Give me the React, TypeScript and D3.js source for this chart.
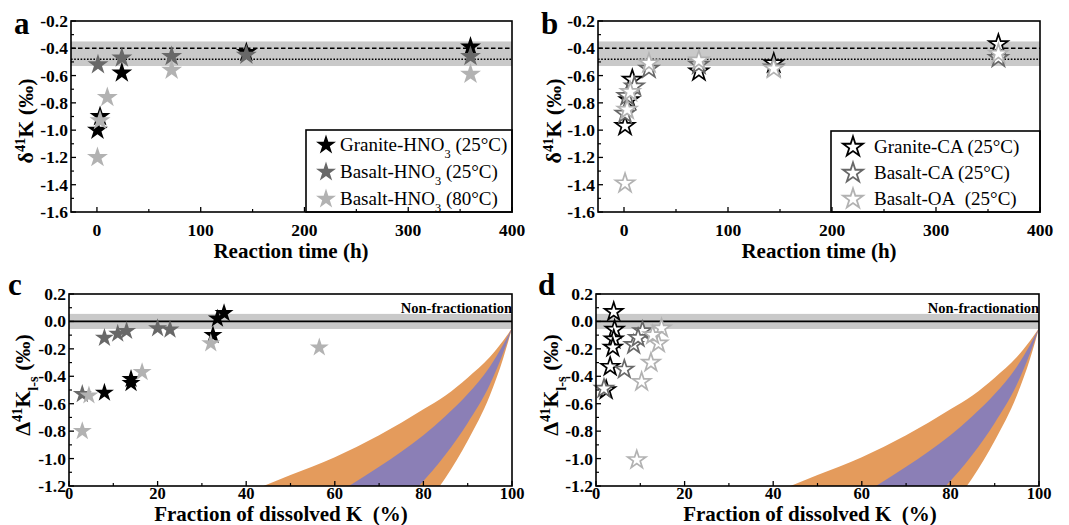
import React from "react";
import * as d3 from "d3";

// ---------- Panel a: HNO3 leaching, δ41K vs reaction time ----------
const aGraniteHNO3_25_t = [0.5, 3, 24, 144, 360];
const aGraniteHNO3_25_v = [-1.0, -0.9, -0.58, -0.43, -0.39];
const aBasaltHNO3_25_t = [1, 24, 72, 144, 360];
const aBasaltHNO3_25_v = [-0.52, -0.47, -0.46, -0.45, -0.46];
const aBasaltHNO3_80_t = [0.5, 3, 10, 72, 360];
const aBasaltHNO3_80_v = [-1.2, -0.93, -0.76, -0.56, -0.59];

// ---------- Panel b: organic acids ----------
const bGraniteCA_t = [1, 5, 8, 72, 144, 360];
const bGraniteCA_v = [-0.97, -0.78, -0.63, -0.57, -0.51, -0.37];
const bBasaltCA_t = [1, 3, 10, 24, 72, 144, 360];
const bBasaltCA_v = [-0.88, -0.75, -0.68, -0.55, -0.52, -0.54, -0.47];
const bBasaltOA_t = [1, 3, 6, 24, 72, 144, 360];
const bBasaltOA_v = [-1.39, -0.85, -0.72, -0.51, -0.49, -0.55, -0.44];

// ---------- Panel c: Δ41K l-s vs fraction dissolved (HNO3) ----------
const cGranite_f = [8, 14, 14, 32.5, 33.5, 35];
const cGranite_v = [-0.52, -0.45, -0.42, -0.1, 0.02, 0.06];
const cBasalt25_f = [3, 8, 11, 13, 20, 22.8];
const cBasalt25_v = [-0.53, -0.12, -0.09, -0.07, -0.05, -0.06];
const cBasalt80_f = [3, 4.5, 16.5, 32, 56.5];
const cBasalt80_v = [-0.8, -0.54, -0.37, -0.16, -0.19];

// ---------- Panel d: organic acids ----------
const dGraniteCA_f = [4, 4.2, 4, 3.8, 3.2, 2.3];
const dGraniteCA_v = [0.07, -0.06, -0.13, -0.19, -0.33, -0.5];
const dBasaltCA_f = [1.8, 6.4, 8.5, 10.5, 9.5];
const dBasaltCA_v = [-0.49, -0.35, -0.17, -0.07, -0.12];
const dBasaltOA_f = [9.2, 10.3, 12.4, 14.1, 14.8, 12.8];
const dBasaltOA_v = [-1.01, -0.44, -0.3, -0.16, -0.05, -0.1];

// ---------- Model envelope edges ----------
const edge1_f = [43.9, 50, 60, 70, 80, 85, 90, 95, 98, 100];
const edge1_v = [-1.2, -1.12, -0.99, -0.83, -0.64, -0.54, -0.41, -0.26, -0.14, -0.05];
const edge2_f = [63.2, 70, 80, 85, 90, 95, 98, 100];
const edge2_v = [-1.2, -1.06, -0.83, -0.69, -0.53, -0.33, -0.17, -0.05];
const edge3_f = [79, 85, 90, 95, 98, 100];
const edge3_v = [-1.2, -0.97, -0.74, -0.46, -0.23, -0.05];
const edge4_f = [83.7, 85, 90, 95, 98, 100];
const edge4_v = [-1.2, -1.14, -0.87, -0.54, -0.27, -0.05];

// ---------- Reference lines ----------
const bulkBand = [-0.35, -0.53];
const graniteBulk = -0.4;
const basaltBulk = -0.48;
const nonFracBand = [0.055, -0.055];

// ---------- Ticks ----------
const timeTicks = [0, 100, 200, 300, 400];
const timeMinor = [50, 150, 250, 350];
const deltaTicks = [-1.6, -1.4, -1.2, -1.0, -0.8, -0.6, -0.4, -0.2];
const deltaMinor = [-1.5, -1.3, -1.1, -0.9, -0.7, -0.5, -0.3];
const fracTicks = [0, 20, 40, 60, 80, 100];
const fracMinor = [10, 30, 50, 70, 90];
const capTicks = [-1.2, -1.0, -0.8, -0.6, -0.4, -0.2, 0.0, 0.2];
const capMinor = [-1.1, -0.9, -0.7, -0.5, -0.3, -0.1, 0.1];

const BLACK = "#000000";
const DARK = "#686868";
const LIGHT = "#b2b2b2";
const BAND = "#c9c9c9";
const ORANGE = "#e49b5c";
const PURPLE = "#8b7fb6";
const FONT = "'Liberation Serif', 'Times New Roman', serif";

const starPath = (r: number) => d3.symbol().type(d3.symbolStar).size((r * r) / 0.8908130915292852)() as string;

type Series = { xs: number[]; ys: number[]; color: string; hollow?: boolean };

function Frame({
  x, y, xTicks, xMinor, yTicks, yMinor, xLabelDy, xLabelSize,
}: {
  x: d3.ScaleLinear<number, number>; y: d3.ScaleLinear<number, number>;
  xTicks: number[]; xMinor: number[]; yTicks: number[]; yMinor: number[]; xLabelDy: number; xLabelSize: number;
}) {
  const [x0, x1] = x.range();
  const [y0, y1] = y.range();
  return (
    <g>
      {xTicks.map((t) => (
        <g key={"xt" + t}>
          <line x1={x(t)} x2={x(t)} y1={y0} y2={y0 - 5} stroke="#000" strokeWidth={1.3} />
          <text x={x(t)} y={y0 + xLabelDy} textAnchor="middle" fontFamily={FONT} fontWeight="bold" fontSize={xLabelSize}>
            {String(t)}
          </text>
        </g>
      ))}
      {xMinor.map((t) => (
        <line key={"xm" + t} x1={x(t)} x2={x(t)} y1={y0} y2={y0 - 3} stroke="#000" strokeWidth={1.2} />
      ))}
      {yTicks.map((t) => (
        <g key={"yt" + t}>
          <line x1={x0} x2={x0 + 5} y1={y(t)} y2={y(t)} stroke="#000" strokeWidth={1.3} />
          <text x={x0 - 3} y={y(t) + 6} textAnchor="end" fontFamily={FONT} fontWeight="bold" fontSize={17.5}>
            {Math.abs(t) < 1e-9 ? "0.0" : t.toFixed(1)}
          </text>
        </g>
      ))}
      {yMinor.map((t) => (
        <line key={"ym" + t} x1={x0} x2={x0 + 3} y1={y(t)} y2={y(t)} stroke="#000" strokeWidth={1.2} />
      ))}
      <rect x={x0} y={y1} width={x1 - x0} height={y0 - y1} fill="none" stroke="#000" strokeWidth={1.6} />
    </g>
  );
}

function Stars({ series, x, y, r }: { series: Series[]; x: any; y: any; r: number }) {
  const p = starPath(r);
  return (
    <g>
      {series.map((s, si) =>
        s.xs.map((xv, i) => (
          <path
            key={si + "-" + i}
            d={p}
            transform={`translate(${x(xv)},${y(s.ys[i])})`}
            fill={s.hollow ? "#ffffff" : s.color}
            stroke={s.color}
            strokeWidth={s.hollow ? 1.7 : 0}
          />
        ))
      )}
    </g>
  );
}

function Legend({ x, y, w, h, items, starX, textX, rowY, hollow }: any) {
  const p = starPath(10.5);
  return (
    <g>
      <rect x={x} y={y} width={w} height={h} fill="#fff" stroke="#000" strokeWidth={1.6} />
      {items.map((it: any, i: number) => (
        <g key={i}>
          <path d={p} transform={`translate(${starX},${rowY[i]})`} fill={hollow ? "#fff" : it.color} stroke={it.color} strokeWidth={hollow ? 1.8 : 0} />
          <text x={textX} y={rowY[i] + 6} fontFamily={FONT} fontSize={19} xmlSpace="preserve" style={{ whiteSpace: "pre" }}>
            {it.label}
          </text>
        </g>
      ))}
    </g>
  );
}

function Envelope({ x, y }: { x: any; y: any }) {
  const pts = (fs: number[], vs: number[]) => fs.map((f, i) => [x(f), y(vs[i])] as [number, number]);
  const line = d3.line().curve(d3.curveMonotoneX);
  const band = (aF: number[], aV: number[], bF: number[], bV: number[]) => {
    const a = line(pts(aF, aV)) as string;
    const b = pts(bF, bV).reverse();
    const bl = d3.line().curve(d3.curveMonotoneX)(b) as string;
    return a + "L" + bl.slice(1) + "Z";
  };
  return (
    <g>
      <path d={band(edge1_f, edge1_v, edge4_f, edge4_v)} fill={ORANGE} />
      <path d={band(edge2_f, edge2_v, edge3_f, edge3_v)} fill={PURPLE} />
    </g>
  );
}

const sup = (s: string) => <tspan baselineShift="super" fontSize="65%">{s}</tspan>;
const sub = (s: string) => <tspan baselineShift="sub" fontSize="65%">{s}</tspan>;

export default function App() {
  const xa = d3.scaleLinear().domain([-25, 400]).range([71, 512]);
  const ya = d3.scaleLinear().domain([-1.6, -0.2]).range([212, 21]);
  const xb = d3.scaleLinear().domain([-25, 400]).range([598, 1040]);
  const yb = ya;
  const xc = d3.scaleLinear().domain([0, 100]).range([69, 512]);
  const yc = d3.scaleLinear().domain([-1.2, 0.2]).range([486, 294]);
  const xd = d3.scaleLinear().domain([0, 100]).range([596, 1039]);
  const yd = yc;

  const refLines = (x: any, y: any) => {
    const [x0, x1] = x.range();
    return (
      <g>
        <rect x={x0} y={y(bulkBand[0])} width={x1 - x0} height={y(bulkBand[1]) - y(bulkBand[0])} fill={BAND} />
        <line x1={x0} x2={x1} y1={y(graniteBulk)} y2={y(graniteBulk)} stroke="#000" strokeWidth={1.4} strokeDasharray="4.5,2.5" />
        <line x1={x0} x2={x1} y1={y(basaltBulk)} y2={y(basaltBulk)} stroke="#000" strokeWidth={1.4} strokeDasharray="1.6,1.6" />
      </g>
    );
  };
  const nonFrac = (x: any, y: any) => {
    const [x0, x1] = x.range();
    return (
      <g>
        <rect x={x0} y={y(nonFracBand[0])} width={x1 - x0} height={y(nonFracBand[1]) - y(nonFracBand[0])} fill={BAND} />
        <line x1={x0} x2={x1} y1={y(0)} y2={y(0)} stroke="#000" strokeWidth={1.8} />
        <text x={x1} y={y(0.2) + 19} textAnchor="end" fontFamily={FONT} fontWeight="bold" fontSize={14.5}>
          Non-fractionation
        </text>
      </g>
    );
  };

  const hno3Label = (t: string) => (
    <>
      {"Basalt-HNO"}
      {sub("3")}
      {` (${t})`}
    </>
  );

  return (
    <svg width={1069} height={525} style={{ position: "absolute", left: 0, top: 0, background: "#fff" }}>
      <rect width={1069} height={525} fill="#fff" />

      {/* Panel a */}
      {refLines(xa, ya)}
      <Stars
        x={xa}
        y={ya}
        r={11}
        series={[
          { xs: aGraniteHNO3_25_t, ys: aGraniteHNO3_25_v, color: BLACK },
          { xs: aBasaltHNO3_25_t, ys: aBasaltHNO3_25_v, color: DARK },
          { xs: aBasaltHNO3_80_t, ys: aBasaltHNO3_80_v, color: LIGHT },
        ]}
      />
      <Legend
        x={306}
        y={130}
        w={206}
        h={82}
        starX={326}
        textX={340}
        rowY={[145, 172, 199]}
        items={[
          { color: BLACK, label: <>{"Granite-HNO"}{sub("3")}{" (25°C)"}</> },
          { color: DARK, label: hno3Label("25°C") },
          { color: LIGHT, label: hno3Label("80°C") },
        ]}
      />
      <Frame x={xa} y={ya} xTicks={timeTicks} xMinor={timeMinor} yTicks={deltaTicks} yMinor={deltaMinor} xLabelDy={24} xLabelSize={17.5} />
      <text x={14} y={34} fontFamily={FONT} fontWeight="bold" fontSize={31}>a</text>
      <text x={291} y={258} textAnchor="middle" fontFamily={FONT} fontWeight="bold" fontSize={21}>Reaction time (h)</text>
      <text transform="translate(33,121) rotate(-90)" textAnchor="middle" fontFamily={FONT} fontWeight="bold" fontSize={22}>
        {"δ"}{sup("41")}{"K (‰)"}
      </text>

      {/* Panel b */}
      {refLines(xb, yb)}
      <Stars
        x={xb}
        y={yb}
        r={10}
        series={[
          { xs: bGraniteCA_t, ys: bGraniteCA_v, color: BLACK, hollow: true },
          { xs: bBasaltCA_t, ys: bBasaltCA_v, color: DARK, hollow: true },
          { xs: bBasaltOA_t, ys: bBasaltOA_v, color: LIGHT, hollow: true },
        ]}
      />
      <Legend
        x={831}
        y={131}
        w={209}
        h={81}
        starX={853}
        textX={874}
        rowY={[147, 173, 199]}
        hollow
        items={[
          { color: BLACK, label: "Granite-CA (25°C)" },
          { color: DARK, label: "Basalt-CA (25°C)" },
          { color: LIGHT, label: "Basalt-OA\u00a0 (25°C)" },
        ]}
      />
      <Frame x={xb} y={yb} xTicks={timeTicks} xMinor={timeMinor} yTicks={deltaTicks} yMinor={deltaMinor} xLabelDy={24} xLabelSize={17.5} />
      <text x={541} y={34} fontFamily={FONT} fontWeight="bold" fontSize={31}>b</text>
      <text x={819} y={258} textAnchor="middle" fontFamily={FONT} fontWeight="bold" fontSize={21}>Reaction time (h)</text>
      <text transform="translate(561,121) rotate(-90)" textAnchor="middle" fontFamily={FONT} fontWeight="bold" fontSize={22}>
        {"δ"}{sup("41")}{"K (‰)"}
      </text>

      {/* Panel c */}
      <Envelope x={xc} y={yc} />
      {nonFrac(xc, yc)}
      <Stars
        x={xc}
        y={yc}
        r={10}
        series={[
          { xs: cGranite_f, ys: cGranite_v, color: BLACK },
          { xs: cBasalt25_f, ys: cBasalt25_v, color: DARK },
          { xs: cBasalt80_f, ys: cBasalt80_v, color: LIGHT },
        ]}
      />
      <Frame x={xc} y={yc} xTicks={fracTicks} xMinor={fracMinor} yTicks={capTicks} yMinor={capMinor} xLabelDy={12.5} xLabelSize={16.5} />
      <text x={8} y={295} fontFamily={FONT} fontWeight="bold" fontSize={31}>c</text>
      <text x={281} y={520.5} textAnchor="middle" fontFamily={FONT} fontWeight="bold" fontSize={21} xmlSpace="preserve" style={{ whiteSpace: "pre" }}>
        {"Fraction of dissolved K\u00a0 (%)"}
      </text>
      <text transform="translate(30,385) rotate(-90)" textAnchor="middle" fontFamily={FONT} fontWeight="bold" fontSize={22}>
        {"Δ"}{sup("41")}{"K"}{sub("l-s")}{" (‰)"}
      </text>

      {/* Panel d */}
      <Envelope x={xd} y={yd} />
      {nonFrac(xd, yd)}
      <Stars
        x={xd}
        y={yd}
        r={9.5}
        series={[
          { xs: dGraniteCA_f, ys: dGraniteCA_v, color: BLACK, hollow: true },
          { xs: dBasaltCA_f, ys: dBasaltCA_v, color: DARK, hollow: true },
          { xs: dBasaltOA_f, ys: dBasaltOA_v, color: LIGHT, hollow: true },
        ]}
      />
      <Frame x={xd} y={yd} xTicks={fracTicks} xMinor={fracMinor} yTicks={capTicks} yMinor={capMinor} xLabelDy={12.5} xLabelSize={16.5} />
      <text x={538} y={295} fontFamily={FONT} fontWeight="bold" fontSize={31}>d</text>
      <text x={810} y={520.5} textAnchor="middle" fontFamily={FONT} fontWeight="bold" fontSize={21} xmlSpace="preserve" style={{ whiteSpace: "pre" }}>
        {"Fraction of dissolved K\u00a0 (%)"}
      </text>
      <text transform="translate(558,385) rotate(-90)" textAnchor="middle" fontFamily={FONT} fontWeight="bold" fontSize={22}>
        {"Δ"}{sup("41")}{"K"}{sub("l-s")}{" (‰)"}
      </text>
    </svg>
  );
}
